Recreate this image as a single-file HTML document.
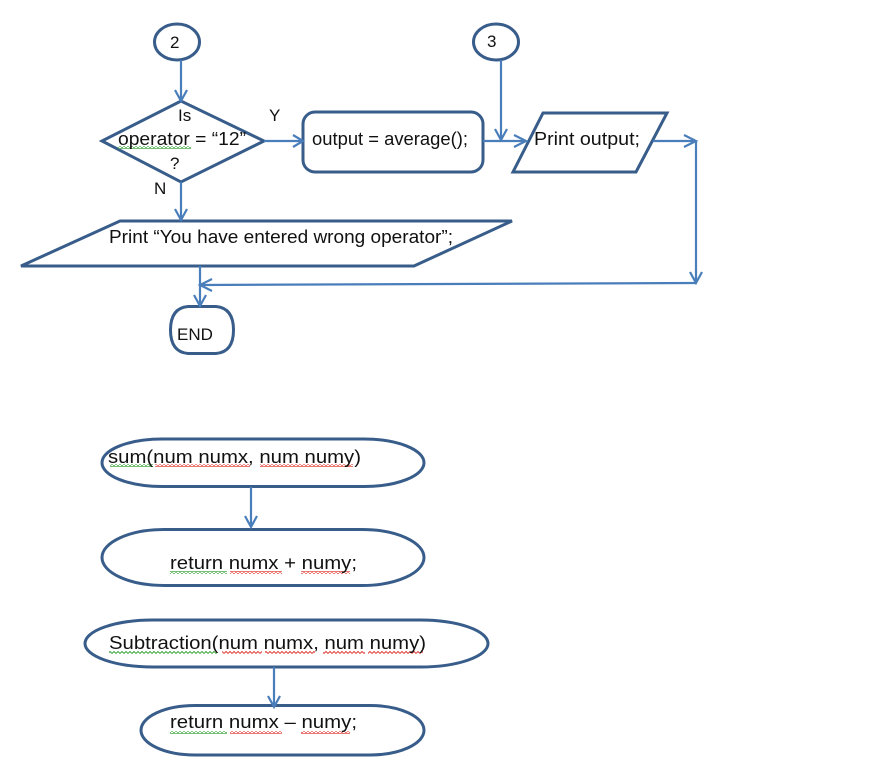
<!DOCTYPE html>
<html>
<head>
<meta charset="utf-8">
<style>
html,body{margin:0;padding:0;background:#fff;width:891px;height:769px;overflow:hidden}
svg{display:block}
text{font-family:"Liberation Sans",sans-serif;font-size:18.500px;fill:#111}
text.k{font-size:17px}
.s{fill:#fff;stroke:#385d8a;stroke-width:3;stroke-linejoin:miter}
.a{fill:none;stroke:#4a7ebb;stroke-width:2.200}
</style>
</head>
<body>
<svg width="891" height="769" viewBox="0 0 891 769" xmlns="http://www.w3.org/2000/svg">
<defs>
<pattern id="g" width="4" height="3" patternUnits="userSpaceOnUse"><path d="M0 2.5L2 .5L4 2.5" fill="none" stroke="#3fa53f" stroke-width="1"/></pattern>
<pattern id="r" width="4" height="3" patternUnits="userSpaceOnUse"><path d="M0 2.5L2 .5L4 2.5" fill="none" stroke="#e0403a" stroke-width="1"/></pattern>
</defs>

<!-- shapes -->
<ellipse class="s" cx="177" cy="42" rx="22.500" ry="18"/>
<ellipse class="s" cx="496" cy="42" rx="22.500" ry="18"/>
<polygon class="s" points="102,141 181,101 264,141 181,182"/>
<rect class="s" x="303" y="112" width="180" height="60" rx="12" ry="12"/>
<polygon class="s" points="543,113 667,113 636,172 513,172"/>
<polygon class="s" points="120,221 512,221 414,266 21,266"/>
<path class="s" d="M188 306.500H216Q233.500 308 233.500 330Q233.500 352 216 353.500H188Q170.500 352 170.500 330Q170.500 308 188 306.500Z"/>
<rect class="s" x="102" y="439" width="322" height="47.500" rx="60" ry="23.700"/>
<rect class="s" x="102" y="529.500" width="322" height="56" rx="62" ry="28"/>
<rect class="s" x="85" y="620" width="403" height="47" rx="68" ry="23.500"/>
<rect class="s" x="141" y="705.500" width="283" height="49.500" rx="54" ry="24.700"/>

<!-- connectors -->
<path class="a" d="M181 60V101M175 90L181 101L187 90"/>
<path class="a" d="M264 141H303M293 135L303 141L293 147"/>
<path class="a" d="M501 60V140M495 129L501 140L507 129"/>
<path class="a" d="M483 141H526M514 135L526 141L514 147"/>
<path class="a" d="M653 141H696M684 135L696 141L684 147"/>
<path class="a" d="M696 142V283M690 272L696 283L702 272"/>
<path class="a" d="M696 283L200 285M212 279L200 285L212 291"/>
<path class="a" d="M200 266V306M194 295L200 306L206 295"/>
<path class="a" d="M181 182V220M175 209L181 220L187 209"/>
<path class="a" d="M251 487V527M245 516L251 527L257 516"/>
<path class="a" d="M274 667V707M268 696L274 707L280 696"/>

<!-- squiggles -->
<rect x="118" y="146" width="73" height="3" fill="url(#g)"/>
<rect x="110" y="464" width="43" height="3" fill="url(#g)"/>
<rect x="155" y="464" width="95" height="3" fill="url(#r)"/>
<rect x="260" y="464" width="93" height="3" fill="url(#r)"/>
<rect x="170" y="571" width="57" height="3" fill="url(#g)"/>
<rect x="230" y="571" width="52" height="3" fill="url(#r)"/>
<rect x="301" y="571" width="49" height="3" fill="url(#r)"/>
<rect x="109" y="651" width="108" height="3" fill="url(#g)"/>
<rect x="222" y="651" width="40" height="3" fill="url(#r)"/>
<rect x="265" y="651" width="50" height="3" fill="url(#r)"/>
<rect x="323" y="651" width="42" height="3" fill="url(#r)"/>
<rect x="368" y="651" width="55" height="3" fill="url(#r)"/>
<rect x="170" y="731" width="57" height="3" fill="url(#g)"/>
<rect x="230" y="731" width="52" height="3" fill="url(#r)"/>
<rect x="301" y="731" width="49" height="3" fill="url(#r)"/>

<!-- labels -->
<text class="k" x="170" y="48">2</text>
<text class="k" x="487" y="47">3</text>
<text class="k" x="178" y="121">Is</text>
<text x="118" y="145" textLength="128" lengthAdjust="spacingAndGlyphs">operator = “12”</text>
<text class="k" x="170" y="169">?</text>
<text class="k" x="269" y="121">Y</text>
<text class="k" x="154" y="194">N</text>
<text x="312" y="145" textLength="156" lengthAdjust="spacingAndGlyphs">output = average();</text>
<text x="534" y="145" textLength="106" lengthAdjust="spacingAndGlyphs">Print output;</text>
<text x="109" y="243" textLength="344" lengthAdjust="spacingAndGlyphs">Print “You have entered wrong operator”;</text>
<text class="k" x="177" y="340">END</text>
<text x="108" y="463" textLength="253" lengthAdjust="spacingAndGlyphs">sum(num numx, num numy)</text>
<text x="170" y="569" textLength="187" lengthAdjust="spacingAndGlyphs">return numx + numy;</text>
<text x="109" y="649" textLength="317" lengthAdjust="spacingAndGlyphs">Subtraction(num numx, num numy)</text>
<text x="170" y="728" textLength="187" lengthAdjust="spacingAndGlyphs">return numx – numy;</text>
</svg>
</body>
</html>
